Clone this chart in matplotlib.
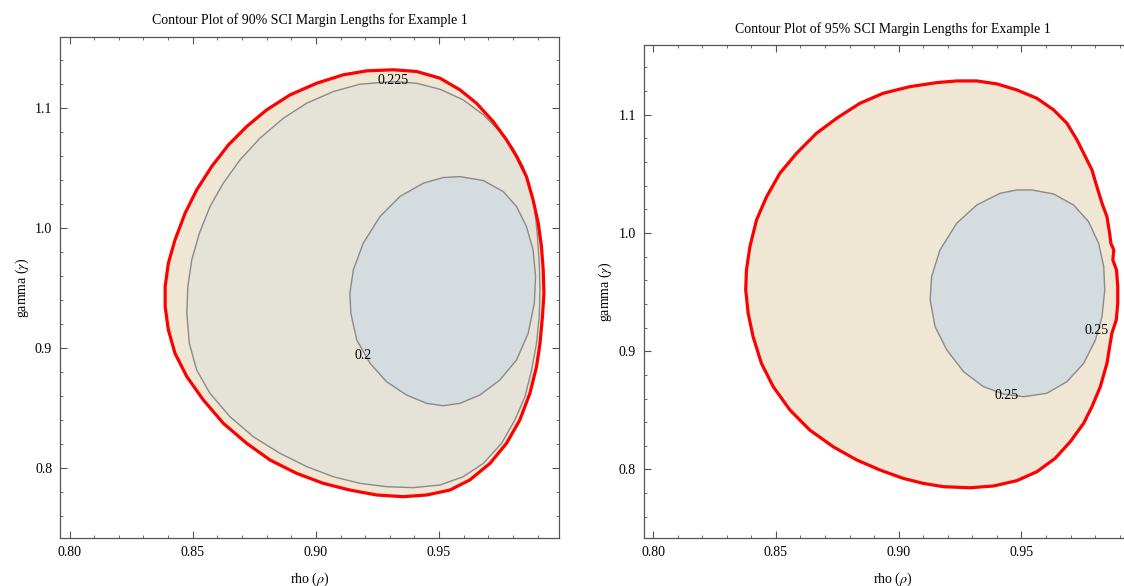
import matplotlib
matplotlib.use('Agg')
import matplotlib.pyplot as plt
from matplotlib.ticker import MultipleLocator, FixedLocator

plt.rcParams['font.family'] = ['Liberation Serif', 'DejaVu Serif']
plt.rcParams['mathtext.fontset'] = 'stix'
plt.rcParams['font.size'] = 10

# 90% panel: outer region boundary (red) and the two labelled contours
rho_90_outer = [0.9314, 0.9409, 0.9504, 0.9585, 0.9652, 0.9720, 0.9774, 0.9815, 0.9855,
                0.9882, 0.9903, 0.9916, 0.9923, 0.9926, 0.9920, 0.9910, 0.9896, 0.9869,
                0.9828, 0.9774, 0.9707, 0.9625, 0.9544, 0.9450, 0.9355, 0.9247, 0.9138,
                0.9030, 0.8922, 0.8814, 0.8719, 0.8624, 0.8543, 0.8476, 0.8428, 0.8401,
                0.8388, 0.8388, 0.8401, 0.8428, 0.8469, 0.8516, 0.8577, 0.8645, 0.8719,
                0.8800, 0.8895, 0.9003, 0.9111, 0.9206]
gam_90_outer = [1.1317, 1.1303, 1.1247, 1.1150, 1.1039, 1.0886, 1.0734, 1.0595, 1.0428,
                1.0234, 1.0040, 0.9845, 0.9651, 0.9457, 0.9263, 0.9041, 0.8846, 0.8624,
                0.8402, 0.8208, 0.8041, 0.7903, 0.7819, 0.7778, 0.7764, 0.7778, 0.7819,
                0.7875, 0.7958, 0.8069, 0.8208, 0.8375, 0.8569, 0.8763, 0.8957, 0.9152,
                0.9346, 0.9512, 0.9707, 0.9901, 1.0123, 1.0317, 1.0512, 1.0692, 1.0845,
                1.0983, 1.1108, 1.1205, 1.1275, 1.1308]

rho_90_c225 = [0.9314, 0.9409, 0.9504, 0.9598, 0.9680, 0.9747, 0.9801, 0.9842, 0.9869,
               0.9889, 0.9900, 0.9907, 0.9910, 0.9907, 0.9896, 0.9876, 0.9849, 0.9808,
               0.9754, 0.9680, 0.9598, 0.9504, 0.9395, 0.9287, 0.9179, 0.9071, 0.8963,
               0.8854, 0.8746, 0.8651, 0.8570, 0.8516, 0.8486, 0.8476, 0.8480, 0.8496,
               0.8527, 0.8570, 0.8624, 0.8692, 0.8773, 0.8868, 0.8963, 0.9071, 0.9179]
gam_90_c225 = [1.1219, 1.1205, 1.1155, 1.1067, 1.0942, 1.0803, 1.0664, 1.0512, 1.0345,
               1.0151, 0.9929, 0.9707, 0.9485, 0.9263, 0.9041, 0.8819, 0.8596, 0.8402,
               0.8208, 0.8041, 0.7930, 0.7861, 0.7839, 0.7847, 0.7875, 0.7930, 0.8014,
               0.8125, 0.8263, 0.8430, 0.8624, 0.8819, 0.9041, 0.9290, 0.9512, 0.9734,
               0.9957, 1.0178, 1.0373, 1.0567, 1.0748, 1.0914, 1.1039, 1.1136, 1.1197]

rho_90_c200 = [0.9585, 0.9680, 0.9761, 0.9815, 0.9855, 0.9882, 0.9892, 0.9887, 0.9862,
               0.9815, 0.9747, 0.9666, 0.9585, 0.9517, 0.9450, 0.9368, 0.9287, 0.9220,
               0.9166, 0.9142, 0.9138, 0.9152, 0.9192, 0.9260, 0.9341, 0.9436, 0.9517]
gam_90_c200 = [1.0428, 1.0395, 1.0303, 1.0178, 1.0012, 0.9818, 0.9596, 0.9374, 0.9124,
               0.8902, 0.8735, 0.8610, 0.8541, 0.8521, 0.8541, 0.8610, 0.8721, 0.8874,
               0.9068, 0.9290, 0.9457, 0.9651, 0.9873, 1.0095, 1.0262, 1.0373, 1.0420]

# 95% panel
rho_95_outer = [0.9318, 0.9400, 0.9481, 0.9563, 0.9631, 0.9685, 0.9726, 0.9760, 0.9787,
                0.9807, 0.9828, 0.9848, 0.9859, 0.9864, 0.9876, 0.9872, 0.9887, 0.9892,
                0.9892, 0.9886, 0.9868, 0.9859, 0.9848, 0.9821, 0.9787, 0.9753, 0.9699,
                0.9637, 0.9563, 0.9481, 0.9386, 0.9291, 0.9182, 0.9100, 0.9019, 0.8924,
                0.8829, 0.8733, 0.8638, 0.8557, 0.8489, 0.8441, 0.8407, 0.8387, 0.8377,
                0.8380, 0.8394, 0.8421, 0.8462, 0.8516, 0.8584, 0.8665, 0.8747, 0.8842,
                0.8937, 0.9046, 0.9155, 0.9236]
gam_95_outer = [1.1286, 1.1261, 1.1210, 1.1139, 1.1041, 1.0928, 1.0787, 1.0646, 1.0533,
                1.0392, 1.0251, 1.0138, 0.9997, 0.9913, 0.9856, 0.9772, 0.9687, 0.9546,
                0.9405, 0.9264, 0.9151, 0.9038, 0.8897, 0.8700, 0.8531, 0.8390, 0.8235,
                0.8094, 0.7981, 0.7905, 0.7860, 0.7845, 0.7854, 0.7882, 0.7924, 0.7995,
                0.8080, 0.8192, 0.8333, 0.8503, 0.8700, 0.8897, 0.9123, 0.9320, 0.9518,
                0.9687, 0.9884, 1.0110, 1.0307, 1.0505, 1.0674, 1.0843, 1.0970, 1.1097,
                1.1182, 1.1238, 1.1272, 1.1286]

rho_95_c250 = [0.9542, 0.9631, 0.9712, 0.9773, 0.9814, 0.9835, 0.9839, 0.9828, 0.9801,
               0.9753, 0.9685, 0.9603, 0.9508, 0.9427, 0.9345, 0.9264, 0.9196, 0.9148,
               0.9128, 0.9134, 0.9168, 0.9236, 0.9318, 0.9413, 0.9481]
gam_95_c250 = [1.0364, 1.0330, 1.0237, 1.0096, 0.9913, 0.9715, 0.9518, 0.9292, 0.9095,
               0.8897, 0.8742, 0.8644, 0.8615, 0.8638, 0.8700, 0.8827, 0.9010, 0.9208,
               0.9433, 0.9631, 0.9856, 1.0082, 1.0237, 1.0336, 1.0364]

# contour labels: text, rho, gamma
labels_90 = [('0.225', 0.9314, 1.1225), ('0.2', 0.9190, 0.8938)]
labels_95 = [('0.25', 0.9438, 0.8629), ('0.25', 0.9807, 0.9179)]

titles = ['Contour Plot of 90% SCI Margin Lengths for Example 1',
          'Contour Plot of 95% SCI Margin Lengths for Example 1']

col_outer = '#F0E6D4'
col_mid = '#E5E2D7'
col_inner = '#D4DCDF'
col_line = '#8a8a8a'


def region(ax, xs, ys, face):
    ax.fill(xs, ys, facecolor=face, edgecolor='none')


def outline(ax, xs, ys, color, lw):
    # closed polygon outline so the joins are clean all the way round
    ax.fill(xs, ys, facecolor='none', edgecolor=color, lw=lw, joinstyle='round')


def style_axes(ax, title):
    ax.set_xlim(0.7963, 0.9987)
    ax.set_ylim(0.742, 1.159)
    ax.xaxis.set_major_locator(FixedLocator([0.80, 0.85, 0.90, 0.95]))
    ax.xaxis.set_minor_locator(MultipleLocator(0.01))
    ax.yaxis.set_major_locator(FixedLocator([0.8, 0.9, 1.0, 1.1]))
    ax.yaxis.set_minor_locator(MultipleLocator(0.02))
    ax.set_xticklabels(['0.80', '0.85', '0.90', '0.95'])
    ax.set_yticklabels(['0.8', '0.9', '1.0', '1.1'])
    ax.tick_params(which='both', direction='in', top=True, right=True,
                   color='#555555', labelsize=10, pad=6)
    ax.tick_params(which='major', length=5, width=0.8)
    ax.tick_params(which='minor', length=2.5, width=0.6)
    for s in ax.spines.values():
        s.set_color('#555555')
        s.set_linewidth(0.9)
    ax.set_xlabel(r'rho ($\rho$)', fontsize=10, labelpad=8)
    ax.set_ylabel(r'gamma ($\gamma$)', fontsize=10, labelpad=3)
    ax.set_title(title, fontsize=10, pad=9)


fig = plt.figure(figsize=(11.24, 5.86), dpi=100)
ax1 = fig.add_axes([0.0538, 0.0819, 0.4435, 0.855])
ax2 = fig.add_axes([0.573, 0.0819, 0.4422, 0.8413])

# left: 90%
region(ax1, rho_90_outer, gam_90_outer, col_outer)
region(ax1, rho_90_c225, gam_90_c225, col_mid)
region(ax1, rho_90_c200, gam_90_c200, col_inner)
outline(ax1, rho_90_c225, gam_90_c225, col_line, 1)
outline(ax1, rho_90_c200, gam_90_c200, col_line, 1)
outline(ax1, rho_90_outer, gam_90_outer, 'red', 2.3)
for t, x, y in labels_90:
    ax1.text(x, y, t, ha='center', va='center', fontsize=10)
style_axes(ax1, titles[0])

# right: 95%
region(ax2, rho_95_outer, gam_95_outer, col_outer)
region(ax2, rho_95_c250, gam_95_c250, col_inner)
outline(ax2, rho_95_c250, gam_95_c250, col_line, 1)
outline(ax2, rho_95_outer, gam_95_outer, 'red', 2.3)
for t, x, y in labels_95:
    ax2.text(x, y, t, ha='center', va='center', fontsize=10)
style_axes(ax2, titles[1])

fig.savefig('out.png', dpi=100)
